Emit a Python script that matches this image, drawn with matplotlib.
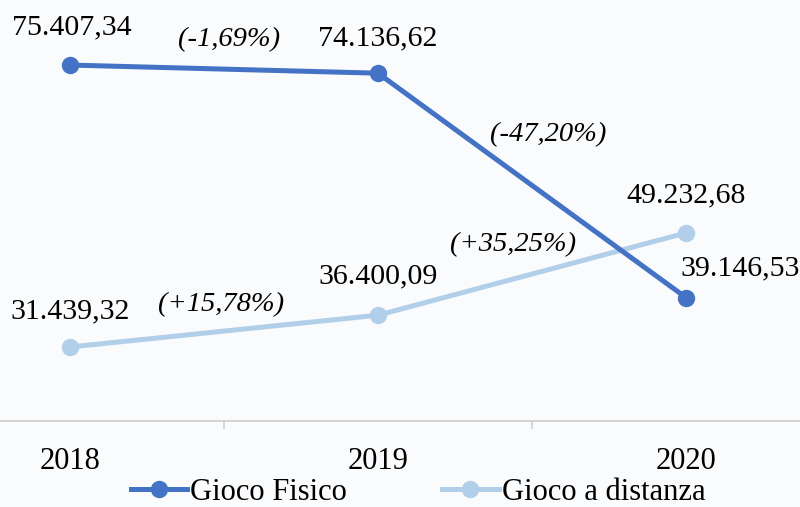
import matplotlib.pyplot as plt
from matplotlib.lines import Line2D

# data
anni = ['2018', '2019', '2020']
gioco_fisico = [75407.34, 74136.62, 39146.53]
gioco_distanza = [31439.32, 36400.09, 49232.68]
var_fisico = ['(-1,69%)', '(-47,20%)']
var_distanza = ['(+15,78%)', '(+35,25%)']

col_fisico = '#4472c4'
col_distanza = '#b2cfea'
bg = '#fafbfd'


def fmt(v):
    # italian number format 75.407,34
    s = '{:,.2f}'.format(v)
    return s.replace(',', 'X').replace('.', ',').replace('X', '.')


plt.rcParams['font.family'] = ['Liberation Serif', 'DejaVu Serif']

fig = plt.figure(figsize=(8, 5.07), dpi=100)
fig.patch.set_facecolor(bg)
ax = fig.add_axes([0, 1 - 421 / 507, 1, 421 / 507])
ax.set_facecolor(bg)

x = list(range(len(anni)))
ax.plot(x, gioco_fisico, color=col_fisico, lw=3.6, marker='o', ms=11.5,
        solid_capstyle='round', zorder=3)
ax.plot(x, gioco_distanza, color=col_distanza, lw=3.6, marker='o', ms=11.5,
        solid_capstyle='round', zorder=2)

ax.set_xlim(-70 / 308, 730 / 308)
ax.set_ylim(19900, 85550)

# value labels
fis_off = [(1, 27), (0, 25), (39, 21)]
dis_off = [(0, 26), (0, 28), (0, 27)]
for i in x:
    ax.annotate(fmt(gioco_fisico[i]), (i, gioco_fisico[i]), xytext=fis_off[i],
                textcoords='offset points', ha='center', va='center', fontsize=21.5)
    ax.annotate(fmt(gioco_distanza[i]), (i, gioco_distanza[i]), xytext=dis_off[i],
                textcoords='offset points', ha='center', va='center', fontsize=21.5)

# percentage changes between years
fis_pos = [(229, 40), (548, 135)]
dis_pos = [(221, 305), (513, 245)]
for lab, (px, py) in zip(var_fisico, fis_pos):
    fig.text(px / 800, 1 - py / 507, lab, ha='center', va='center',
             fontsize=20.5, style='italic')
for lab, (px, py) in zip(var_distanza, dis_pos):
    fig.text(px / 800, 1 - py / 507, lab, ha='center', va='center',
             fontsize=20.5, style='italic')

for s in ['top', 'left', 'right']:
    ax.spines[s].set_visible(False)
ax.spines['bottom'].set_color('#d0d0d0')
ax.spines['bottom'].set_linewidth(1.3)
ax.set_yticks([])
ax.set_xticks(x)
ax.set_xticklabels(anni, fontsize=22)
ax.tick_params(axis='x', length=0, pad=19)
ax.set_xticks([0.5, 1.5], minor=True)
ax.tick_params(axis='x', which='minor', length=6, width=1.2, color='#d0d0d0',
               direction='out')

handles = [Line2D([], [], color=col_fisico, lw=3.6, marker='o', ms=11.5),
           Line2D([], [], color=col_distanza, lw=3.6, marker='o', ms=11.5)]
fig.legend(handles, ['Gioco Fisico', 'Gioco a distanza'], loc='center',
           bbox_to_anchor=(418 / 800, 1 - 492 / 507), ncol=2, frameon=False,
           fontsize=22, handlelength=1.85, handletextpad=0.1, columnspacing=3.1,
           borderpad=0, markerscale=1)

fig.savefig('out.png', dpi=100, facecolor=bg)
